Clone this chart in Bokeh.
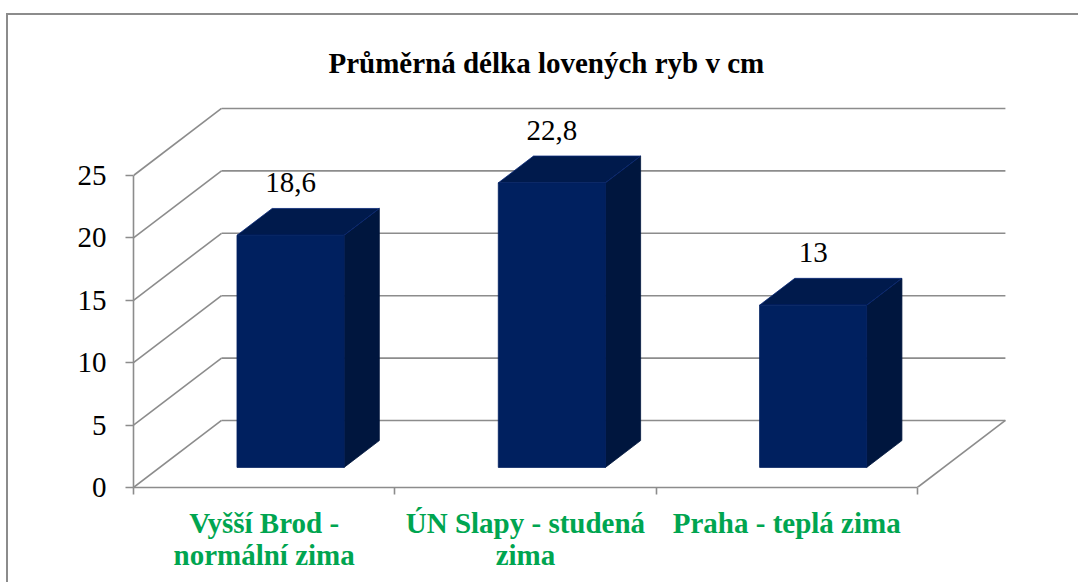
from bokeh.plotting import figure
from bokeh.models import LinearAxis, FixedTicker, Range1d, ColumnDataSource, Title
from bokeh.embed import file_html
from bokeh.resources import INLINE
from bokeh.core.properties import value

# ---- data ----
title_text = "Průměrná délka lovených ryb v cm"
categories = ["Vyšší Brod -\nnormální zima", "ÚN Slapy - studená\nzima", "Praha - teplá zima"]
values = [18.6, 22.8, 13.0]
value_labels = ["18,6", "22,8", "13"]
y_ticks = [0, 5, 10, 15, 20, 25]

# ---- styling / 3D projection parameters ----
GRAY = "#8c8c8c"
GREEN = "#00a550"
FRONT = "#00205f"
TOP = "#001a4c"
SIDE = "#00163e"
FONT = "Liberation Serif"
DX = 0.3368   # x shift (category units) per unit of depth
DY = 5.37     # y shift (value units) per unit of depth
D0, D1 = 0.3, 0.7   # bar depth span
HALF = 0.205        # half bar width (category units)
n = len(categories)
ymax = max(y_ticks)


def proj(c, v, d):
    return c + DX * d, v + DY * d


def poly(pts):
    xs, ys = zip(*[proj(*pt) for pt in pts])
    return list(xs), list(ys)


p = figure(width=1070, height=569,
           x_range=Range1d(0, 927 / 261.3), y_range=Range1d(0, 392 / 12.48),
           x_axis_type=None, y_axis_type=None,
           toolbar_location=None, output_backend="svg",
           min_border_left=125, min_border_right=18,
           min_border_top=80, min_border_bottom=97,
           outline_line_color=None, background_fill_color="white",
           border_fill_color="white")
p.styles = {"margin-top": "15px", "margin-left": "8px",
            "box-shadow": "-2px -2px 0 0 #8c8c8c, 0 -2px 0 0 #8c8c8c"}

# title
p.title = Title(text=title_text, align="left", offset=195, standoff=30,
                vertical_align="top",
                text_font=FONT, text_font_size="29px", text_font_style="bold",
                text_color="black")

# ---- walls / floor lines ----
x0s, y0s, x1s, y1s = [], [], [], []
for t in y_ticks:
    a = proj(0, t, 1); b = proj(n, t, 1)
    x0s.append(a[0]); y0s.append(a[1]); x1s.append(b[0]); y1s.append(b[1])
    a = proj(0, t, 0); b = proj(0, t, 1)
    x0s.append(a[0]); y0s.append(a[1]); x1s.append(b[0]); y1s.append(b[1])
a = proj(n, 0, 0); b = proj(n, 0, 1)
x0s.append(a[0]); y0s.append(a[1]); x1s.append(b[0]); y1s.append(b[1])
p.segment(x0=x0s, y0=y0s, x1=x1s, y1=y1s, line_color=GRAY, line_width=1.6)

# ---- bars ----
fx, fy, tx, ty, sx, sy = [], [], [], [], [], []
for i, v in enumerate(values):
    cL, cR = i + 0.5 - HALF, i + 0.5 + HALF
    xs, ys = poly([(cL, 0, D0), (cR, 0, D0), (cR, v, D0), (cL, v, D0)]); fx.append(xs); fy.append(ys)
    xs, ys = poly([(cL, v, D0), (cR, v, D0), (cR, v, D1), (cL, v, D1)]); tx.append(xs); ty.append(ys)
    xs, ys = poly([(cR, 0, D0), (cR, 0, D1), (cR, v, D1), (cR, v, D0)]); sx.append(xs); sy.append(ys)
p.patches(xs=sx, ys=sy, fill_color=SIDE, line_color=SIDE, line_width=0.8)
p.patches(xs=tx, ys=ty, fill_color=TOP, line_color="#0a2a78", line_width=0.8)
p.patches(xs=fx, ys=fy, fill_color=FRONT, line_color=FRONT, line_width=0.8)

# ---- value labels ----
lab = ColumnDataSource(dict(
    x=[proj(i + 0.5, v, D0)[0] for i, v in enumerate(values)],
    y=[proj(i + 0.5, v, D1)[1] for i, v in enumerate(values)],
    t=value_labels))
p.text(x="x", y="y", text="t", source=lab, text_align="center",
       text_baseline="alphabetic", y_offset=-26,
       text_font=value(FONT), text_font_size="29px", text_color="black")

# ---- axes ----
yaxis = LinearAxis(ticker=FixedTicker(ticks=y_ticks), bounds=(0, ymax),
                   axis_line_color=GRAY, axis_line_width=1.6,
                   major_tick_line_color=GRAY, major_tick_line_width=1.6,
                   major_tick_out=8, major_tick_in=0,
                   minor_tick_line_color=None,
                   major_label_text_font=FONT, major_label_text_font_size="29px",
                   major_label_text_color="black", major_label_standoff=19)
p.add_layout(yaxis, "left")

xaxis = LinearAxis(ticker=FixedTicker(ticks=[i + 0.5 for i in range(n)],
                                      minor_ticks=list(range(n + 1))),
                   bounds=(0, n),
                   axis_line_color=GRAY, axis_line_width=1.6,
                   major_tick_line_color=None, major_tick_out=0, major_tick_in=0,
                   minor_tick_line_color=GRAY, minor_tick_line_width=1.6,
                   minor_tick_out=7, minor_tick_in=0,
                   major_label_overrides={i + 0.5: c for i, c in enumerate(categories)},
                   major_label_text_font=FONT, major_label_text_font_size="29px",
                   major_label_text_font_style="bold", major_label_text_color=GREEN,
                   major_label_text_line_height=1.0, major_label_standoff=12)
p.add_layout(xaxis, "below")

open("out.html", "w").write(file_html(p, INLINE))
